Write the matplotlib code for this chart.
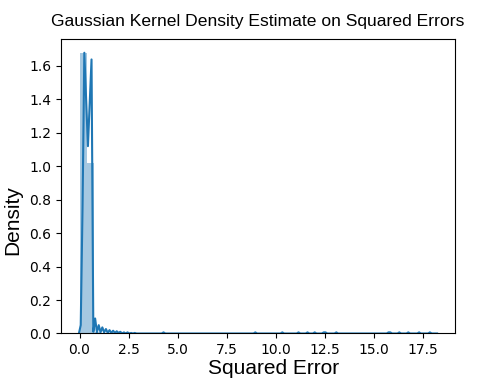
import numpy as np
import matplotlib
matplotlib.use("Agg")
import matplotlib.pyplot as plt

# ---- data: distinct squared-error values and how many samples take each value ----
main_values = [0.0, 0.01588, 0.06176, 0.10764, 0.15352, 0.19940, 0.24528, 0.29116,
               0.33704, 0.38291, 0.42879, 0.47467, 0.52055, 0.56643, 0.61231, 0.65819,
               0.70407]
main_counts = [20, 800, 15, 1700, 226, 1900, 505, 1751,
               421, 700, 337, 850, 415, 1000, 493, 658,
               3]

tail_values = [0.79583, 0.88759, 0.97935, 1.07111, 1.16286, 1.25462, 1.34638, 1.43814,
               1.52990, 1.62166, 1.71342, 1.80518, 1.89693, 1.98869, 2.08045, 2.26397,
               2.44748, 2.63100, 2.81452]
tail_counts = [27, 2, 15, 2, 11, 2, 8, 1,
               6, 1, 5, 1, 4, 1, 3, 2,
               2, 1, 1]

far_values = [3.6862, 4.28266, 5.0626, 5.9802, 6.8978, 7.8154, 8.7330, 8.96236,
              9.6506, 10.33874, 10.5682, 11.16457, 11.62337, 11.99040, 12.44920, 12.54096,
              12.8621, 13.09151, 13.7797, 14.6973, 15.6149, 15.75251, 15.84427, 16.30307,
              16.76186, 17.31241, 17.86297, 18.2]
far_counts = [7, 2, 7, 7, 7, 7, 7, 2,
              7, 2, 7, 2, 2, 2, 2, 2,
              7, 2, 7, 7, 7, 2, 2, 2,
              2, 2, 2, 1]

kde_bandwidth = 0.01
kde_gridsize = 200
kde_cut = 3
n_bins = 50

values = np.array(main_values + tail_values + far_values)
counts = np.array(main_counts + tail_counts + far_counts, dtype=float)

# ---- Gaussian KDE evaluated on a grid ----
grid = np.linspace(values.min() - kde_cut * kde_bandwidth,
                   values.max() + kde_cut * kde_bandwidth, kde_gridsize)
z = (grid[:, None] - values[None, :]) / kde_bandwidth
density = (np.exp(-0.5 * z ** 2) * counts).sum(axis=1) / (
    counts.sum() * kde_bandwidth * np.sqrt(2 * np.pi))

# ---- figure ----
fig = plt.figure(figsize=(4.82, 3.82), dpi=100)
ax = fig.add_axes([0.1266, 0.127, 0.8174, 0.772])

ax.hist(values, bins=n_bins, weights=counts, density=True, color="C0", alpha=0.4)
ax.plot(grid, density, color="C0", linewidth=1.5)
ax.set_ylim(bottom=0)

ax.set_title("Gaussian Kernel Density Estimate on Squared Errors",
             fontsize=12.6, family="Liberation Sans", pad=9)
ax.set_xlabel("Squared Error", fontsize=15, family="Liberation Sans",
              labelpad=1.5, x=0.54, ha="center")
ax.set_ylabel("Density", fontsize=15, family="Liberation Sans",
              labelpad=5, y=0.385, ha="center")

fig.savefig("out.png", dpi=100)
